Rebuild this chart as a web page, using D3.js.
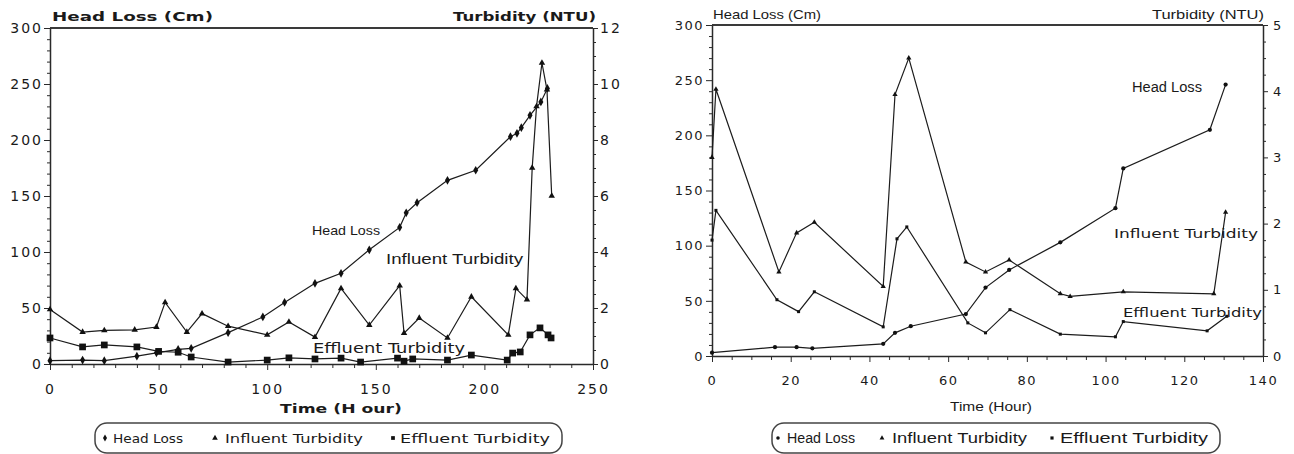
<!DOCTYPE html>
<meta charset="utf-8">
<style>
body { margin: 0; background: #fff; }
svg { display: block; }
.series { fill: none; stroke: #1c1c1c; stroke-width: 1.2; }
.mark { fill: #111; }
.frame { stroke: #3a3a3a; fill: none; }
.axis path, .axis line { stroke: #2a2a2a; }
.legend-box { fill: none; stroke: #444; stroke-width: 1.5; }
</style>
<body>
<script src="https://d3js.org/d3.v7.min.js"></script>
<script>

// ---- left panel (first filter run) ----
var leftHeadLossHours = [0, 15, 25, 40, 49, 59, 65, 82, 98, 108, 122, 134, 147, 161, 164, 169, 183, 196, 212, 215, 217, 221, 226, 229];
var leftHeadLossCm    = [3, 3.5, 3, 7, 10, 13, 14, 28, 42, 55, 72, 81, 102, 122, 135, 144, 164, 173, 203, 206, 211, 222, 234, 246];

var leftInfluentHours = [0, 15, 25, 39, 49, 53, 63, 70, 82, 100, 110, 122, 134, 147, 161, 163, 170, 183, 194, 211, 214.5, 219.6, 222, 224, 226.5, 228.8, 231];
var leftInfluentNtu   = [1.95, 1.14, 1.2, 1.22, 1.32, 2.2, 1.14, 1.8, 1.35, 1.04, 1.5, 0.96, 2.7, 1.39, 2.8, 1.1, 1.64, 0.93, 2.4, 1.04, 2.7, 2.3, 7.0, 9.2, 10.75, 9.8, 6.0];

var leftEffluentHours = [0, 15, 25, 40, 50, 59, 65, 82, 100, 110, 122, 134, 143, 160, 163, 167, 183, 194, 210.5, 213, 216.5, 221, 225.6, 229.3, 230.7];
var leftEffluentNtu   = [0.93, 0.61, 0.68, 0.61, 0.45, 0.42, 0.25, 0.07, 0.14, 0.22, 0.18, 0.21, 0.07, 0.21, 0.1, 0.18, 0.14, 0.32, 0.14, 0.39, 0.43, 1.04, 1.29, 1.04, 0.93];

var leftHourTicks = [0, 50, 100, 150, 200, 250];
var leftCmTicks   = [0, 50, 100, 150, 200, 250, 300];
var leftNtuTicks  = [0, 2, 4, 6, 8, 10, 12];

// ---- right panel (second filter run) ----
var rightHeadLossHours = [0, 16, 21.5, 25.5, 43.5, 46.5, 50.5, 64.5, 69.5, 75.5, 88.5, 102.5, 104.5, 126.5, 130.5];
var rightHeadLossCm    = [3, 8, 8, 7, 11, 21, 27, 38, 62, 78, 103, 134, 170, 205, 246];

var rightInfluentHours = [0, 1, 17, 21.5, 26, 43.5, 46.5, 50, 64.5, 69.5, 75.5, 88.5, 91, 104.5, 127.5, 130.5];
var rightInfluentNtu   = [3.0, 4.03, 1.27, 1.86, 2.02, 1.05, 3.95, 4.5, 1.42, 1.27, 1.45, 0.94, 0.9, 0.97, 0.94, 2.17];

var rightEffluentHours = [0, 1, 16.5, 22, 26, 43.5, 47, 49.5, 65, 69.5, 75.7, 88.5, 102.5, 104.5, 125.8, 130.8];
var rightEffluentNtu   = [1.75, 2.2, 0.85, 0.67, 0.97, 0.44, 1.77, 1.95, 0.5, 0.35, 0.7, 0.33, 0.29, 0.52, 0.38, 0.6];

var rightHourTicks = [0, 20, 40, 60, 80, 100, 120, 140];
var rightCmTicks   = [0, 50, 100, 150, 200, 250, 300];
var rightNtuTicks  = [0, 1, 2, 3, 4, 5];

var seriesNames = ["Head Loss", "Influent Turbidity", "Effluent Turbidity"];

var svg = d3.select("body").append("svg")
    .attr("width", 1294)
    .attr("height", 454);

function zip(xs, ys) { return xs.map(function(x, i) { return [x, ys[i]]; }); }

function minorTicks(max, step, majors) {
  return d3.range(0, max + step / 2, step).filter(function(v) {
    return !majors.some(function(m) { return Math.abs(m - v) < 1e-6; });
  });
}

function addText(g, str, x, y, o) {
  var t = g.append("text")
    .attr("x", x).attr("y", y)
    .style("font-family", o.family)
    .style("font-size", o.size + "px")
    .style("font-weight", o.weight || "normal")
    .style("fill", "#1a1a1a")
    .text(str);
  if (o.width) t.attr("textLength", o.width).attr("lengthAdjust", "spacingAndGlyphs");
  return t;
}

function drawPanel(p) {
  var g = svg.append("g");
  var x = d3.scaleLinear().domain([0, p.xMax]).range([p.left, p.right]);
  var yCm = d3.scaleLinear().domain([0, 300]).range([p.bottom, p.top]);
  var yNtu = d3.scaleLinear().domain([0, p.ntuMax]).range([p.bottom, p.top]);
  var fmt = d3.format("d");

  // top border
  g.append("line").attr("class", "frame")
    .attr("x1", p.left).attr("x2", p.right)
    .attr("y1", p.top).attr("y2", p.top)
    .style("stroke-width", p.topWidth);

  function styleTicks(sel, o) {
    sel.selectAll("text")
      .style("font-family", o.family)
      .style("font-size", o.size + "px")
      .style("letter-spacing", o.spacing + "px")
      .style("fill", "#1a1a1a");
    sel.select(".domain").style("stroke-width", 1.5);
  }

  // bottom axis
  var xa = g.append("g").attr("class", "axis")
    .attr("transform", "translate(0," + p.bottom + ")")
    .call(d3.axisBottom(x).tickValues(p.xTicks).tickFormat(fmt).tickSize(6).tickSizeOuter(0).tickPadding(p.xPad));
  styleTicks(xa, p.tickFont);
  g.append("g").attr("class", "axis")
    .attr("transform", "translate(0," + p.bottom + ")")
    .call(d3.axisBottom(x).tickValues(minorTicks(p.xMax, p.xMinor, p.xTicks)).tickSize(4).tickFormat(""))
    .select(".domain").remove();

  // left axis (cm)
  var ya = g.append("g").attr("class", "axis")
    .attr("transform", "translate(" + p.left + ",0)")
    .call(d3.axisLeft(yCm).tickValues(p.cmTicks).tickFormat(fmt).tickSize(6).tickSizeOuter(0).tickPadding(p.yPad));
  styleTicks(ya, p.tickFont);
  g.append("g").attr("class", "axis")
    .attr("transform", "translate(" + p.left + ",0)")
    .call(d3.axisLeft(yCm).tickValues(minorTicks(300, 10, p.cmTicks)).tickSize(3).tickFormat(""))
    .select(".domain").remove();

  // right axis (NTU)
  var ra = g.append("g").attr("class", "axis")
    .attr("transform", "translate(" + p.right + ",0)")
    .call(d3.axisRight(yNtu).tickValues(p.ntuTicks).tickFormat(fmt).tickSize(5).tickSizeOuter(0).tickPadding(p.rPad));
  styleTicks(ra, p.tickFont);
  g.append("g").attr("class", "axis")
    .attr("transform", "translate(" + p.right + ",0)")
    .call(d3.axisRight(yNtu).tickValues(minorTicks(p.ntuMax, p.ntuMinor, p.ntuTicks)).tickSize(3).tickFormat(""))
    .select(".domain").remove();

  // series
  p.series.forEach(function(s) {
    var y = s.axis === "cm" ? yCm : yNtu;
    var pts = zip(s.hours, s.values);
    g.append("path").attr("class", "series")
      .attr("d", d3.line().x(function(d) { return x(d[0]); }).y(function(d) { return y(d[1]); })(pts));
    g.selectAll(null).data(pts).enter().append("path").attr("class", "mark")
      .attr("transform", function(d) { return "translate(" + x(d[0]) + "," + y(d[1]) + ")"; })
      .attr("d", d3.symbol().type(s.symbol).size(s.size));
  });

  // titles, annotations, legend
  p.texts.forEach(function(t) { addText(g, t.str, t.x, t.y, t); });

  var lg = p.legend;
  g.append("rect").attr("class", "legend-box")
    .attr("x", lg.x).attr("y", lg.y).attr("width", lg.w).attr("height", lg.h)
    .attr("rx", 12).attr("ry", 12);
  lg.items.forEach(function(it, i) {
    g.append("path").attr("class", "mark")
      .attr("transform", "translate(" + it.mx + "," + (lg.y + 15) + ")")
      .attr("d", d3.symbol().type(p.series[i].symbol).size(lg.markSize));
    addText(g, seriesNames[i], it.tx, lg.y + 20, { family: lg.family, size: lg.size, width: it.tw });
  });
}

var leftFont = "'DejaVu Sans', Verdana, sans-serif";
var rightFont = "'Liberation Sans', Arial, sans-serif";

drawPanel({
  left: 50, right: 593, top: 28, bottom: 364, topWidth: 2,
  xMax: 250, xTicks: leftHourTicks, xMinor: 10, xPad: 14,
  cmTicks: leftCmTicks, yPad: 1,
  ntuMax: 12, ntuTicks: leftNtuTicks, ntuMinor: 0.5, rPad: 2,
  tickFont: { family: leftFont, size: 14, spacing: 2 },
  series: [
    { hours: leftHeadLossHours, values: leftHeadLossCm, axis: "cm", symbol: d3.symbolDiamond, size: 22 },
    { hours: leftInfluentHours, values: leftInfluentNtu, axis: "ntu", symbol: d3.symbolTriangle, size: 18 },
    { hours: leftEffluentHours, values: leftEffluentNtu, axis: "ntu", symbol: d3.symbolSquare, size: 45 }
  ],
  texts: [
    { str: "Head Loss (Cm)", x: 52, y: 21, family: leftFont, size: 12, weight: "bold", width: 161 },
    { str: "Turbidity (NTU)", x: 453, y: 21, family: leftFont, size: 12, weight: "bold", width: 143 },
    { str: "Time (H our)", x: 280, y: 413, family: leftFont, size: 13, weight: "bold", width: 122 },
    { str: "Head Loss", x: 312, y: 235, family: rightFont, size: 13, width: 68 },
    { str: "Influent Turbidity", x: 386, y: 264, family: rightFont, size: 14, width: 137 },
    { str: "Effluent Turbidity", x: 313, y: 353, family: leftFont, size: 14, width: 152 }
  ],
  legend: {
    x: 95, y: 423, w: 467, h: 30, family: leftFont, size: 13, markSize: 14,
    items: [{ mx: 105, tx: 113, tw: 70 }, { mx: 215, tx: 225, tw: 138 }, { mx: 393, tx: 400, tw: 150 }]
  }
});

drawPanel({
  left: 712, right: 1263, top: 25, bottom: 356, topWidth: 2,
  xMax: 140, xTicks: rightHourTicks, xMinor: 5, xPad: 14,
  cmTicks: rightCmTicks, yPad: 2,
  ntuMax: 5, ntuTicks: rightNtuTicks, ntuMinor: 0.25, rPad: 5,
  tickFont: { family: leftFont, size: 13, spacing: 1.5 },
  series: [
    { hours: rightHeadLossHours, values: rightHeadLossCm, axis: "cm", symbol: d3.symbolCircle, size: 14 },
    { hours: rightInfluentHours, values: rightInfluentNtu, axis: "ntu", symbol: d3.symbolTriangle, size: 12 },
    { hours: rightEffluentHours, values: rightEffluentNtu, axis: "ntu", symbol: d3.symbolSquare, size: 9 }
  ],
  texts: [
    { str: "Head Loss (Cm)", x: 713, y: 19, family: rightFont, size: 13, width: 108 },
    { str: "Turbidity (NTU)", x: 1152, y: 19, family: rightFont, size: 13, width: 112 },
    { str: "Time (Hour)", x: 950, y: 411, family: rightFont, size: 13, width: 82 },
    { str: "Head Loss", x: 1132, y: 92, family: rightFont, size: 14, width: 70 },
    { str: "Influent Turbidity", x: 1114, y: 238, family: leftFont, size: 13, width: 144 },
    { str: "Effluent Turbidity", x: 1123, y: 317, family: leftFont, size: 13, width: 139 }
  ],
  legend: {
    x: 772, y: 423, w: 448, h: 30, family: rightFont, size: 14, markSize: 10,
    items: [{ mx: 778, tx: 787, tw: 68 }, { mx: 882, tx: 892, tw: 135 }, { mx: 1052, tx: 1060, tw: 148 }]
  }
});

</script>
</body>
